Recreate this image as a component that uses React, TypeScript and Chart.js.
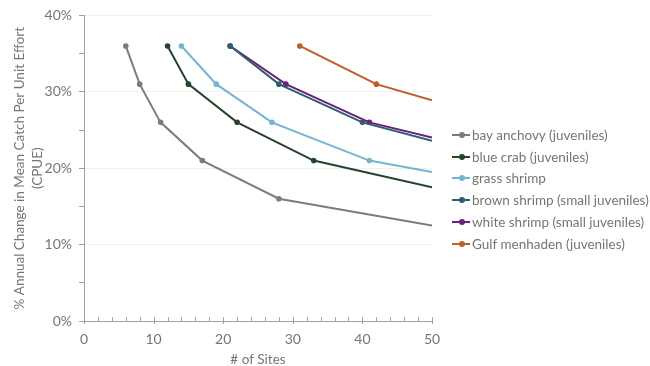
import React, { useEffect, useRef } from "react";
import { Chart, registerables } from "chart.js";

Chart.register(...registerables);

// ---- Data ----
const seriesNames = [
  "bay anchovy (juveniles)",
  "blue crab (juveniles)",
  "grass shrimp",
  "brown shrimp (small juveniles)",
  "white shrimp (small juveniles)",
  "Gulf menhaden (juveniles)",
];
const seriesColors = ["#7e7d74", "#27442b", "#74b5d1", "#2f5d70", "#6a1f7c", "#c15d28"];

const bayAnchovySites = [6, 8, 11, 17, 28, 50];
const bayAnchovyChange = [36, 31, 26, 21, 16, 12.5];

const blueCrabSites = [12, 15, 22, 33, 50];
const blueCrabChange = [36, 31, 26, 21, 17.5];

const grassShrimpSites = [14, 19, 27, 41, 50];
const grassShrimpChange = [36, 31, 26, 21, 19.5];

const brownShrimpSites = [21, 28, 40, 50];
const brownShrimpChange = [36, 31, 26, 23.6];

const whiteShrimpSites = [21, 29, 41, 50];
const whiteShrimpChange = [36, 31, 26, 24];

const gulfMenhadenSites = [31, 42, 50];
const gulfMenhadenChange = [36, 31, 28.9];

const xTickValues = [0, 10, 20, 30, 40, 50];
const yTickValues = [0, 10, 20, 30, 40];

const allSites = [bayAnchovySites, blueCrabSites, grassShrimpSites, brownShrimpSites, whiteShrimpSites, gulfMenhadenSites];
const allChanges = [bayAnchovyChange, blueCrabChange, grassShrimpChange, brownShrimpChange, whiteShrimpChange, gulfMenhadenChange];

const FONT = "Lato, 'Noto Sans', sans-serif";
const TEXT_COLOR = "#77766e";
const AXIS_COLOR = "#a3a29a";
const GRID_COLOR = "#f0f0ec";

const xTickPlugin = {
  id: "xInsideTicks",
  afterDraw(chart: any) {
    const x = chart.scales.x;
    const y0 = chart.chartArea.bottom;
    const ctx = chart.ctx;
    ctx.save();
    ctx.strokeStyle = AXIS_COLOR;
    ctx.lineWidth = 1;
    for (let v = 0; v <= 50; v += 2) {
      const px = Math.round(x.getPixelForValue(v)) + 0.5;
      const major = xTickValues.includes(v);
      ctx.beginPath();
      ctx.moveTo(px, y0 - 4);
      ctx.lineTo(px, major ? y0 + 3 : y0);
      ctx.stroke();
    }
    ctx.restore();
  },
};

export default function App() {
  const ref = useRef<HTMLCanvasElement | null>(null);

  useEffect(() => {
    if (!ref.current) return;
    const datasets = seriesNames.map((name, i) => ({
      label: name,
      data: allSites[i].map((s, j) => ({ x: s, y: allChanges[i][j] })),
      borderColor: seriesColors[i],
      backgroundColor: seriesColors[i],
      borderWidth: 2,
      pointRadius: allSites[i].map((s) => (s >= 50 ? 0 : 2.8)),
      pointBorderWidth: 0,
      pointHoverRadius: 0,
      tension: 0,
      fill: false,
    }));

    const chart = new Chart(ref.current, {
      type: "line",
      data: { datasets },
      plugins: [xTickPlugin],
      options: {
        animation: false,
        responsive: false,
        devicePixelRatio: 1,
        layout: { padding: { left: 0, right: 218, top: 8, bottom: 0 } },
        plugins: { legend: { display: false }, tooltip: { enabled: false } },
        scales: {
          x: {
            type: "linear",
            min: 0,
            max: 50,
            afterBuildTicks: (s: any) => {
              const t = [];
              for (let v = 0; v <= 50; v += 2) t.push({ value: v });
              s.ticks = t;
            },
            afterFit: (s: any) => {
              s.height = 45;
            },
            ticks: {
              autoSkip: false,
              maxRotation: 0,
              padding: 10,
              color: TEXT_COLOR,
              font: { family: FONT, size: 14 },
              callback: (v: any) => (xTickValues.includes(Number(v)) ? String(v) : ""),
            },
            grid: { display: false, drawTicks: false },
            border: { display: true, color: AXIS_COLOR, width: 1 },
            title: {
              display: true,
              text: "# of Sites",
              color: TEXT_COLOR,
              font: { family: FONT, size: 13.5, lineHeight: 1.2 },
              padding: { top: 0, bottom: -2 },
            },
          },
          y: {
            type: "linear",
            min: 0,
            max: 40,
            afterBuildTicks: (s: any) => {
              const t = [];
              for (let v = 0; v <= 40; v += 5) t.push({ value: v });
              s.ticks = t;
            },
            afterFit: (s: any) => {
              s.width = 84;
            },
            ticks: {
              autoSkip: false,
              padding: 7,
              color: TEXT_COLOR,
              font: { family: FONT, size: 14 },
              callback: (v: any) => (yTickValues.includes(Number(v)) ? v + "%" : ""),
            },
            grid: {
              drawTicks: true,
              tickLength: 5,
              tickColor: AXIS_COLOR,
              color: (c: any) =>
                c.tick && c.tick.value % 10 === 0 && c.tick.value !== 0 ? GRID_COLOR : "rgba(0,0,0,0)",
            },
            border: { display: true, color: AXIS_COLOR, width: 1 },
            title: {
              display: true,
              text: ["% Annual Change in Mean Catch Per Unit Effort", "(CPUE)"],
              color: TEXT_COLOR,
              font: { family: FONT, size: 13.5, lineHeight: 1.3 },
              padding: { top: 11, bottom: 0 },
            },
          },
        },
      } as any,
    });
    return () => chart.destroy();
  }, []);

  return (
    <div style={{ position: "absolute", left: 0, top: 0, width: 650, height: 366, background: "#fff" }}>
      <canvas ref={ref} width={650} height={366} style={{ display: "block" }} />
      <div style={{ position: "absolute", left: 452, top: 124, fontFamily: FONT, fontSize: 13.5, color: TEXT_COLOR }}>
        {seriesNames.map((name, i) => (
          <div key={name} style={{ display: "flex", alignItems: "center", height: 21.8, whiteSpace: "nowrap" }}>
            <span style={{ position: "relative", width: 18, height: 2, background: seriesColors[i], marginRight: 2, display: "inline-block" }}>
              <span
                style={{
                  position: "absolute",
                  left: 6.5,
                  top: -2,
                  width: 6,
                  height: 6,
                  borderRadius: 3,
                  background: seriesColors[i],
                }}
              />
            </span>
            <span>{name}</span>
          </div>
        ))}
      </div>
    </div>
  );
}
